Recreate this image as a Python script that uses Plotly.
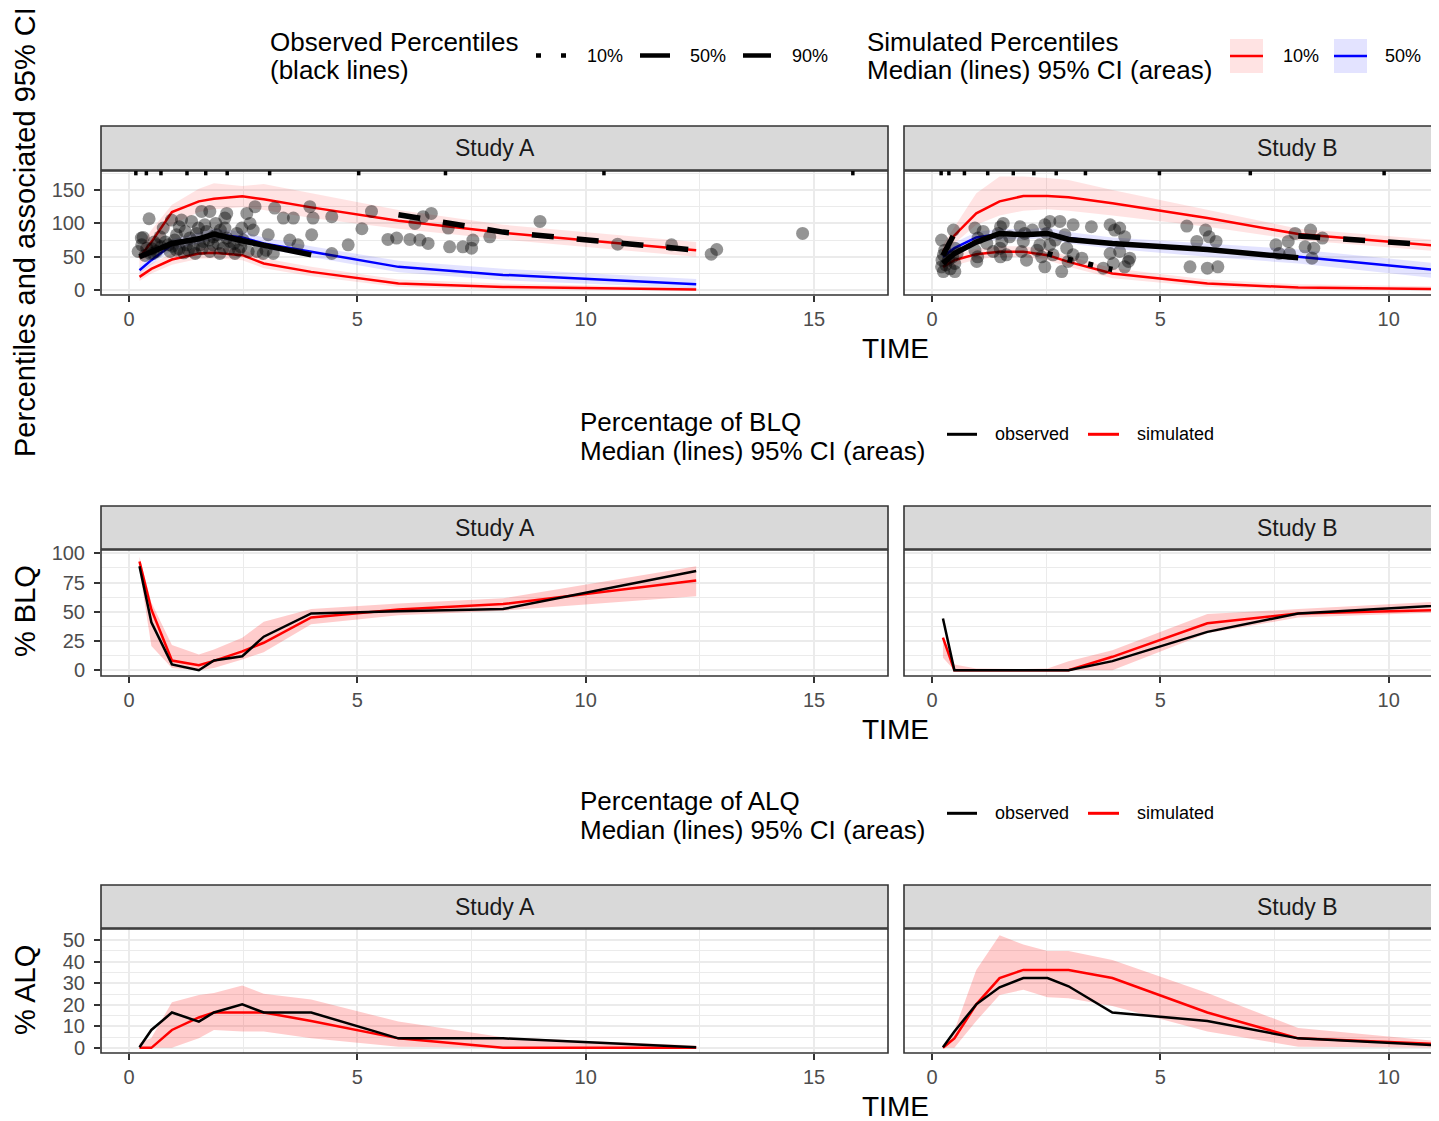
import plotly.graph_objects as go

# ---- bin midpoints (TIME) ----
bins_a = [0.23, 0.49, 0.94, 1.53, 1.86, 2.48, 2.95, 3.99, 5.9, 8.19, 12.42]
bins_b = [0.24, 0.49, 0.97, 1.48, 2.0, 2.53, 2.99, 3.95, 6.03, 8.02, 12.0]

# bin separators (rug at the top of the VPC panels)
sep_a = [0.15, 0.38, 0.7, 1.27, 1.68, 2.15, 3.08, 5.03, 6.93, 10.4, 15.85]
sep_b = [0.2, 0.37, 0.71, 1.22, 1.78, 2.23, 2.72, 3.36, 4.98, 6.97, 9.9]

# ---- observed concentrations ----
obs_x_a = [0.2, 0.27, 0.31, 0.28, 0.44, 0.39, 0.46, 0.53, 0.61, 0.68, 0.75, 0.86, 0.9, 0.93,
           1.04, 1.04, 1.15, 1.23, 1.26, 1.33, 1.37, 1.41, 1.48, 1.52, 1.55, 1.59, 1.63, 1.66,
           1.7, 1.77, 1.77, 1.84, 1.92, 1.99, 2.06, 2.1, 2.1, 2.14, 2.14, 2.21, 2.32, 2.36,
           2.47, 2.58, 2.61, 2.65, 2.72, 2.76, 2.94, 3.05, 3.16, 3.19, 3.38, 3.52, 3.6, 3.7,
           3.96, 4.0, 4.03, 4.44, 4.44, 4.8, 5.1, 5.31, 5.67, 5.86, 6.15, 6.26, 6.37, 6.44,
           6.55, 6.62, 6.99, 7.02, 7.31, 7.5, 7.53, 7.9, 9.0, 10.7, 11.88, 12.75, 12.87, 14.75,
           0.5, 0.6, 0.7, 0.8, 0.95, 1.0, 1.1, 1.2, 1.3, 1.45, 1.6, 1.75, 1.85, 1.95, 2.0,
           2.2, 2.3, 2.4, 2.5, 2.8, 0.35, 0.55, 1.1, 1.9, 2.45, 3.0]
obs_y_a = [58, 78, 79, 68, 107, 63, 55, 55, 68, 80, 93, 68, 58, 105,
           83, 60, 105, 88, 68, 78, 103, 63, 85, 93, 68, 118, 73, 98,
           88, 118, 58, 68, 83, 55, 63, 93, 108, 115, 78, 73, 55, 85,
           93, 115, 58, 100, 90, 125, 55, 83, 55, 123, 108, 75, 108, 68,
           125, 83, 108, 110, 55, 68, 92, 118, 76, 78, 76, 100, 75, 110,
           70, 115, 93, 65, 65, 63, 75, 80, 103, 69, 68, 54, 61, 85,
           62, 58, 65, 72, 66, 75, 62, 56, 60, 55, 62, 75, 80, 70, 90,
           62, 70, 60, 75, 58, 52, 72, 95, 100, 65, 60]

obs_x_b = [0.21, 0.25, 0.21, 0.25, 0.47, 0.5, 0.5, 0.5, 0.36, 0.94, 1.01, 0.94, 0.98, 1.12,
           1.45, 1.56, 1.53, 1.34, 1.63, 1.49, 1.93, 2.03, 2.0, 1.96, 2.07, 2.47, 2.58, 2.51,
           2.36, 2.58, 2.65, 2.47, 2.8, 2.91, 3.09, 2.95, 3.09, 2.98, 2.84, 3.28, 3.49, 3.9,
           4.0, 4.11, 4.22, 3.9, 4.11, 3.97, 4.3, 4.22, 3.75, 4.33, 5.58, 5.8, 5.99, 6.07,
           6.22, 5.65, 6.03, 6.26, 7.53, 7.8, 7.6, 7.83, 7.95, 8.29, 8.17, 8.36, 8.32, 8.55,
           0.22, 0.28, 0.3, 0.45, 0.4, 0.55, 1.2, 1.5, 1.7, 2.2, 2.3, 2.7, 1.0, 1.5, 2.4]
obs_y_b = [75, 53, 35, 28, 90, 63, 40, 28, 45, 93, 78, 60, 43, 88,
           85, 100, 73, 58, 53, 63, 95, 85, 73, 58, 45, 98, 103, 85,
           68, 68, 53, 35, 103, 83, 98, 63, 53, 43, 28, 48, 95, 98,
           90, 93, 80, 55, 58, 40, 43, 35, 33, 48, 96, 73, 90, 80,
           73, 35, 33, 35, 68, 73, 55, 55, 85, 90, 65, 63, 48, 78,
           45, 60, 38, 50, 32, 55, 70, 95, 80, 90, 60, 75, 50, 50, 50]

# ---- simulated percentiles (median and 95% CI), study A ----
p10_a = [20, 32, 46, 55, 56, 52.5, 40, 27.5, 10, 5, 1]
p10_a_lo = [14, 25, 38, 47, 48, 45, 33, 21, 5, 1, 0]
p10_a_hi = [27, 40, 55, 63, 64, 61, 48, 35, 16, 10, 4]
p50_a = [30, 45, 68, 78, 84, 79, 70, 57.6, 35, 23, 9]
p50_a_lo = [25, 38, 60, 70, 76, 71, 62, 50, 27, 15, 3]
p50_a_hi = [36, 53, 76, 86, 92, 88, 79, 66, 44, 32, 17]
p90_a = [49, 72, 117, 133, 137, 140.5, 136, 124, 104, 86, 60]
p90_a_lo = [35, 58, 98, 117, 121, 124, 120, 108, 92, 76, 50]
p90_a_hi = [62, 90, 128, 152, 160, 156, 159, 145, 120, 98, 72]

# observed percentiles, study A
o10_a = [None, None, None, None, None, None, None, None, None, None, None]
o50_a = [50, 57, 70, 77, 84, 74, 67, 53, None, None, None]
o90_a = [None, None, None, None, None, None, None, None, 113, 87, 60]

# ---- simulated percentiles, study B ----
p10_b = [35, 45, 54, 57.5, 57.5, 52.5, 42.5, 25, 10, 4, 1.2]
p10_b_lo = [28, 37, 46, 50, 50, 45, 35, 18, 5, 0.5, 0]
p10_b_hi = [42, 53, 62, 66, 66, 61, 51, 33, 16, 9, 5]
p50_b = [50, 63, 79, 84, 83, 86, 78, 70, 60, 50, 24]
p50_b_lo = [42, 55, 71, 76, 76, 78, 70, 62, 50, 40, 11]
p50_b_hi = [58, 71, 87, 92, 91, 94, 87, 79, 70, 61, 34]
p90_b = [58, 82, 115, 133, 141, 141, 139, 130, 108, 84, 61]
p90_b_lo = [50, 70, 98, 112, 119, 121, 119, 112, 95, 75, 53]
p90_b_hi = [68, 95, 145, 170, 170, 168, 165, 150, 120, 92, 70]

o10_b = [None, None, None, None, None, 55, 46, 31, None, None, None]
o50_b = [40, 55, 72, 85, 83, 85, 76, 70, 61, 48.5, None]
o90_b = [52, 85, None, None, None, None, None, None, None, 81, 63]

# ---- percentage BLQ ----
blq_obs_a = [89, 41, 5, 0, 8.3, 12, 28.7, 48.6, 50.5, 52.3, 84.8]
blq_sim_a = [93, 52, 8.3, 4.3, 8, 16.1, 23.5, 45.1, 52, 56.6, 76.7]
blq_lo_a = [86, 20.7, 2, 0, 2, 9.2, 15.5, 39.4, 47, 50.9, 63.2]
blq_hi_a = [97, 58, 21.6, 13.5, 17.8, 27.9, 41.4, 52.3, 57, 61.5, 89]

blq_obs_b = [44.3, 0, 0, 0, 0, 0, 0, 7.8, 32.8, 48.6, 57.2]
blq_sim_b = [27.9, 0, 0, 0, 0, 0, 0, 11.5, 40.2, 48.6, 52.2]
blq_lo_b = [10.6, 0, 0, 0, 0, 0, 0, 0, 31.6, 45.1, 50.7]
blq_hi_b = [28, 4.9, 1.5, 1, 1, 1.5, 7.8, 17.2, 48, 52.3, 60.5]

# ---- percentage ALQ ----
alq_obs_a = [0.3, 8.3, 16.4, 12.2, 16.4, 20.2, 16.4, 16.4, 4.4, 4.4, 0.3]
alq_sim_a = [0, 0, 8.3, 14.1, 16.4, 16.4, 16.4, 12.5, 4.4, 0, 0]
alq_lo_a = [0, 0, 0, 4.4, 8.3, 7.6, 7.6, 4.4, 0.5, 0, 0]
alq_hi_a = [2.3, 4.6, 21.2, 24.5, 25.5, 29, 25.1, 22.5, 12.2, 4.9, 1.1]

alq_obs_b = [0.3, 7.6, 20.2, 28.1, 32.4, 32.4, 28.6, 16.4, 12.5, 4.4, 0.2]
alq_sim_b = [0, 4.4, 20.2, 32.4, 36.2, 36.2, 36.2, 32.4, 16.4, 4.4, 1.0]
alq_lo_b = [0, 0, 12.5, 24.5, 27, 23.5, 23, 19.4, 7.6, 0.5, 0]
alq_hi_b = [0, 8, 36.2, 52.3, 48, 45, 45, 40.8, 25.5, 9.2, 1.3]

# ---------------------------------------------------------------
# the page body has an 8px margin, so the figure is 8px smaller and all
# pixel positions below are given in window coordinates
OFF = 8
W, H = 1439 - OFF, 1121 - OFF
RED, BLUE = '#FF0000', '#0000FF'
PINK_TOP = 'rgba(255,0,0,0.11)'
BLUE_TOP = 'rgba(0,0,255,0.11)'
PINK = 'rgba(255,0,0,0.2)'
FONT = 'Liberation Sans, Arial, sans-serif'


def fx(p):
    return (p - OFF) / W


def fy(p):
    return 1 - (p - OFF) / H


def band(x, lo, hi, color, ax):
    return go.Scatter(x=list(x) + list(x)[::-1], y=list(hi) + list(lo)[::-1],
                      fill='toself', fillcolor=color, mode='lines', line=dict(width=0),
                      hoverinfo='skip', showlegend=False, xaxis='x' + ax, yaxis='y' + ax)


def line(x, y, color, width, ax, dash='solid'):
    return go.Scatter(x=x, y=y, mode='lines', line=dict(color=color, width=width, dash=dash),
                      connectgaps=False, showlegend=False, hoverinfo='skip',
                      xaxis='x' + ax, yaxis='y' + ax)


def points(x, y, ax):
    return go.Scatter(x=x, y=y, mode='markers',
                      marker=dict(color='rgba(0,0,0,0.42)', size=13, line=dict(width=0)),
                      showlegend=False, hoverinfo='skip', xaxis='x' + ax, yaxis='y' + ax)


traces = []
# row 1 : VPC
for ax, b, p10, p50, p90, ox, oy, o10, o50, o90 in [
    ('', bins_a, (p10_a, p10_a_lo, p10_a_hi), (p50_a, p50_a_lo, p50_a_hi), (p90_a, p90_a_lo, p90_a_hi),
     obs_x_a, obs_y_a, o10_a, o50_a, o90_a),
    ('2', bins_b, (p10_b, p10_b_lo, p10_b_hi), (p50_b, p50_b_lo, p50_b_hi), (p90_b, p90_b_lo, p90_b_hi),
     obs_x_b, obs_y_b, o10_b, o50_b, o90_b)]:
    traces.append(band(b, p10[1], p10[2], PINK_TOP, ax))
    traces.append(band(b, p50[1], p50[2], BLUE_TOP, ax))
    traces.append(band(b, p90[1], p90[2], PINK_TOP, ax))
    traces.append(line(b, p10[0], RED, 2.5, ax))
    traces.append(line(b, p50[0], BLUE, 2.5, ax))
    traces.append(line(b, p90[0], RED, 2.5, ax))
    traces.append(points(ox, oy, ax))
    traces.append(line(b, o10, 'black', 5.5, ax, dash='5px,16px'))
    traces.append(line(b, o50, 'black', 5.5, ax))
    traces.append(line(b, o90, 'black', 5.5, ax, dash='22px,23px'))

# rows 2 and 3 : BLQ / ALQ
for ax, b, lo, hi, sim, obs in [
    ('3', bins_a, blq_lo_a, blq_hi_a, blq_sim_a, blq_obs_a),
    ('4', bins_b, blq_lo_b, blq_hi_b, blq_sim_b, blq_obs_b),
    ('5', bins_a, alq_lo_a, alq_hi_a, alq_sim_a, alq_obs_a),
    ('6', bins_b, alq_lo_b, alq_hi_b, alq_sim_b, alq_obs_b)]:
    traces.append(band(b, lo, hi, PINK, ax))
    traces.append(line(b, sim, RED, 2.5, ax))
    traces.append(line(b, obs, 'black', 2.5, ax))

fig = go.Figure(data=traces)

# ---- panel geometry (window pixels) ----
XA = (101, 888)
XB = (904, 1439)
rows = [(126, 170, 171, 295), (506, 549, 550, 676), (885, 928, 929, 1053)]
yranges = [(-7.1, 178.4), (-4.9, 102.8), (-2.4, 55.2)]
ydticks = [50, 25, 10]
xr_a = [-0.613, 16.62]
scale = (XA[1] - XA[0]) / (xr_a[1] - xr_a[0])
xr_b = [xr_a[0], xr_a[0] + (XB[1] - XB[0]) / scale]

tickfont = dict(family=FONT, size=20, color='#4D4D4D')
grid = dict(showgrid=True, gridcolor='#EBEBEB', gridwidth=2, zeroline=False,
            showline=False, ticks='outside', ticklen=6, tickwidth=1.5, tickcolor='#333333',
            tickfont=tickfont, automargin=False, fixedrange=True)

layout = dict(width=W, height=H, margin=dict(l=0, r=0, t=0, b=0),
              paper_bgcolor='white', plot_bgcolor='white', showlegend=False,
              font=dict(family=FONT, color='black'))
shapes = []
annotations = []

for r, (s0, s1, p0, p1) in enumerate(rows):
    for c, (xd, xr) in enumerate([(XA, xr_a), (XB, xr_b)]):
        n = r * 2 + c + 1
        k = '' if n == 1 else str(n)
        layout['xaxis' + k] = dict(grid, domain=[fx(xd[0]), min(1.0, fx(xd[1]))], anchor='y' + k,
                                   range=xr, tick0=0, dtick=5, ticklabelstandoff=0,
                                   minor=dict(tick0=0, dtick=2.5, showgrid=True,
                                              gridcolor='#EBEBEB', gridwidth=1))
        layout['yaxis' + k] = dict(grid, domain=[fy(p1), fy(p0)], anchor='x' + k,
                                   range=list(yranges[r]), tick0=0, dtick=ydticks[r],
                                   showticklabels=(c == 0), ticks='outside' if c == 0 else '',
                                   ticklabelstandoff=5,
                                   minor=dict(tick0=0, dtick=ydticks[r] / 2, showgrid=True,
                                              gridcolor='#EBEBEB', gridwidth=1))
        # panel border
        shapes.append(dict(type='rect', xref='x' + k + ' domain', yref='y' + k + ' domain',
                           x0=0, x1=1 if c == 0 else 1.02, y0=0, y1=1,
                           line=dict(color='#333333', width=1.6), layer='above'))
        # strip
        shapes.append(dict(type='rect', xref='paper', yref='paper',
                           x0=fx(xd[0]), x1=fx(xd[1] if c == 0 else xd[1] + 10),
                           y0=fy(s1), y1=fy(s0), fillcolor='#D9D9D9',
                           line=dict(color='#333333', width=1.6), layer='below'))
        annotations.append(dict(text='Study A' if c == 0 else 'Study B', xref='paper', yref='paper',
                                x=fx(xd[0] + 393.5), y=fy((s0 + s1) / 2), showarrow=False,
                                xanchor='center', yanchor='middle',
                                font=dict(family=FONT, size=23, color='#1A1A1A')))
    annotations.append(dict(text='TIME', xref='paper', yref='paper', x=fx(895), y=fy(p1 + 53),
                            showarrow=False, xanchor='center', yanchor='middle',
                            font=dict(family=FONT, size=28, color='black')))

# rug of bin separators
for k, seps in [('', sep_a), ('2', sep_b)]:
    for v in seps:
        shapes.append(dict(type='line', xref='x' if k == '' else 'x2',
                           yref=('y' if k == '' else 'y2') + ' domain',
                           x0=v, x1=v, y0=0.965, y1=1.0, line=dict(color='black', width=3.5)))

# y axis titles
for txt, yc in [('Percentiles and associated 95% CI', 232), ('% BLQ', 611), ('% ALQ', 990)]:
    annotations.append(dict(text=txt, xref='paper', yref='paper', x=fx(25), y=fy(yc),
                            textangle=-90, showarrow=False, xanchor='center', yanchor='middle',
                            font=dict(family=FONT, size=29, color='black')))


def text(t, x, y, size):
    annotations.append(dict(text=t, xref='paper', yref='paper', x=fx(x), y=fy(y),
                            showarrow=False, xanchor='left', yanchor='middle',
                            font=dict(family=FONT, size=size, color='black')))


def keyline(x0, x1, y, color, width, dash='solid'):
    shapes.append(dict(type='line', xref='paper', yref='paper', x0=fx(x0), x1=fx(x1),
                       y0=fy(y), y1=fy(y), line=dict(color=color, width=width, dash=dash)))


def keybox(x0, x1, y0, y1, color):
    shapes.append(dict(type='rect', xref='paper', yref='paper', x0=fx(x0), x1=fx(x1),
                       y0=fy(y1), y1=fy(y0), fillcolor=color, line=dict(width=0)))


# ---- top legend ----
text('Observed Percentiles', 268, 42, 26)
text('(black lines)', 268, 70, 26)
keyline(536, 566, 55.5, 'black', 4.5, dash='5px,20px')
text('10%', 585, 56, 18)
keyline(640, 670, 55.5, 'black', 4.5)
text('50%', 688, 56, 18)
keyline(743, 772, 55.5, 'black', 4.5, dash='28px,30px')
text('90%', 790, 56, 18)

text('Simulated Percentiles', 865, 42, 26)
text('Median (lines) 95% CI (areas)', 865, 70, 26)
keybox(1230, 1263, 39, 73, PINK_TOP)
keyline(1230, 1263, 56, RED, 2.5)
text('10%', 1281, 56, 18)
keybox(1334, 1367, 39, 73, BLUE_TOP)
keyline(1334, 1367, 56, BLUE, 2.5)
text('50%', 1383, 56, 18)
keybox(1437, 1470, 39, 73, PINK_TOP)
keyline(1437, 1470, 56, RED, 2.5)

# ---- BLQ / ALQ legends ----
for name, dy in [('BLQ', 0), ('ALQ', 379)]:
    text('Percentage of ' + name, 578, 421.7 + dy, 26)
    text('Median (lines) 95% CI (areas)', 578, 450.8 + dy, 26)
    keyline(947, 977, 434.3 + dy, 'black', 3)
    text('observed', 993, 434.3 + dy, 18)
    keyline(1088, 1119, 434.3 + dy, RED, 3)
    text('simulated', 1135, 434.3 + dy, 18)

layout['shapes'] = shapes
layout['annotations'] = annotations
fig.update_layout(layout)

fig.write_html("out.html")
